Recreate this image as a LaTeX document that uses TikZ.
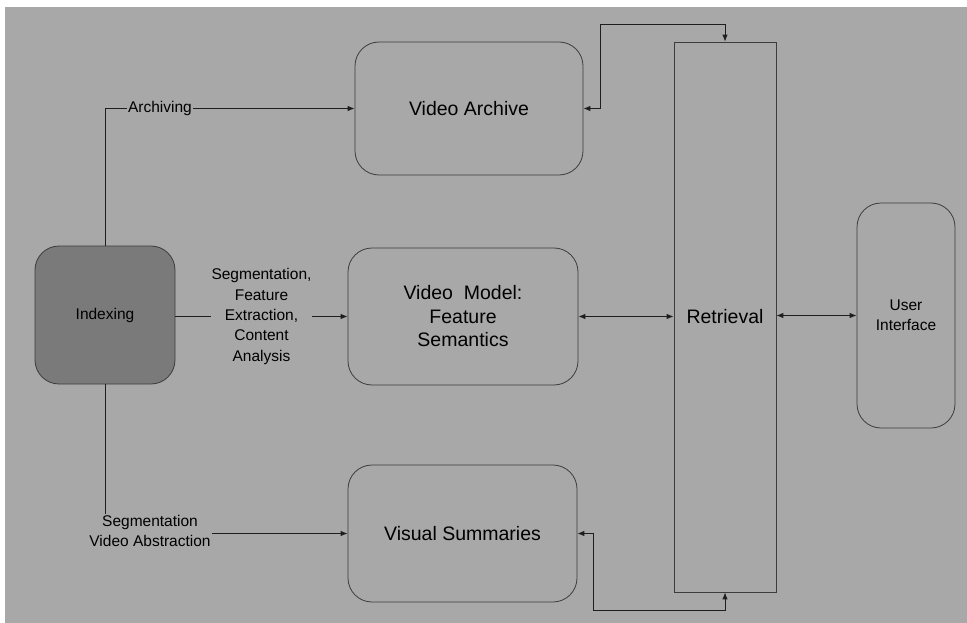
\documentclass[tikz,border=0pt]{standalone}
\usepackage{fontspec}
\setmainfont{Liberation Sans}
\usetikzlibrary{arrows.meta,calc}

\definecolor{bggray}{RGB}{168,168,168}
\definecolor{darkfill}{RGB}{122,122,122}
\definecolor{edgegray}{RGB}{60,60,60}
\definecolor{linegray}{RGB}{30,30,30}

\tikzset{
  box/.style={draw=edgegray, line width=0.8pt, rounded corners=24pt,
    fill=bggray, align=center, font=\fontsize{19.5}{23.5}\selectfont,
    inner sep=0pt},
  bar/.style={draw=edgegray, line width=0.8pt, fill=bggray,
    font=\fontsize{19.5}{23.5}\selectfont, inner sep=0pt},
  smallbox/.style={box, font=\fontsize{15.5}{20}\selectfont},
  lbl/.style={fill=bggray, align=center, inner sep=1pt,
    font=\fontsize{15.5}{20.3}\selectfont},
  conn/.style={draw=linegray, line width=0.9pt},
  tip/.style={-{Latex[length=7pt,width=5.5pt]}},
  tips/.style={{Latex[length=7pt,width=5.5pt]}-{Latex[length=7pt,width=5.5pt]}}
}

\begin{document}
\begin{tikzpicture}[x=1pt, y=-1pt]
  % page and grey backdrop
  \useasboundingbox (0,0) rectangle (967,623);
  \fill[white] (0,0) rectangle (967,623);
  \fill[bggray] (5,7) rectangle (967,623);

  % main blocks
  \node[box, minimum width=228pt, minimum height=133pt] (arch) at (469,108.5) {Video Archive};
  \node[box, minimum width=230pt, minimum height=137pt] (model) at (463,316.5) {Video\ \ Model:\\Feature\\Semantics};
  \node[box, minimum width=229pt, minimum height=137pt] (summ) at (462.5,533.5) {Visual Summaries};
  \node[smallbox, fill=darkfill, minimum width=140pt, minimum height=138pt] (idx) at (105,315) {Indexing};
  \node[bar, minimum width=102pt, minimum height=550pt] (ret) at (725,317) {Retrieval};
  \node[smallbox, minimum width=98pt, minimum height=225pt] (ui) at (906,315.5) {User\\Interface};

  % bends of the retrieval loops
  \coordinate (topbend) at (600,24);
  \coordinate (botbend) at (593,610);

  % indexing outputs
  \draw[conn, tip] (idx.north) |- (arch.west);
  \node[lbl] (lblarch) at (160,108) {Archiving};

  \draw[conn, tip] (idx.east |- model.west) -- (model.west)
    node[lbl, midway] (lblmodel) {Segmentation,\\Feature\\Extraction,\\Content\\Analysis};

  \draw[conn, tip] (idx.south) |- (summ.west);
  \node[lbl] (lblsumm) at (150,531) {Segmentation\\Video Abstraction};

  % links to retrieval and user interface
  \draw[conn, tips] (arch.east) -| (topbend) -| (ret.north);
  \draw[conn, tips] (summ.east) -| (botbend) -| (ret.south);
  \draw[conn, tips] (model.east) -- (model.east -| ret.west);
  \draw[conn, tips] (ret.east |- ui.west) -- (ui.west);
\end{tikzpicture}
\end{document}
